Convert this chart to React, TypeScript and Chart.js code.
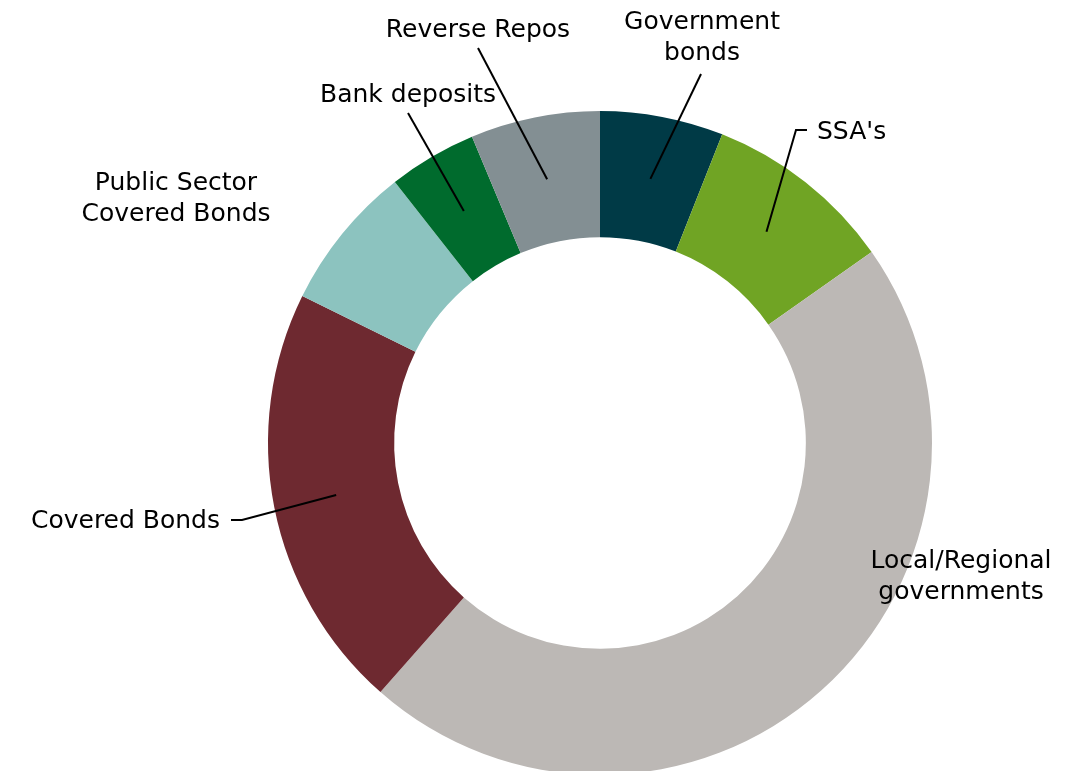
import React, { useEffect, useRef } from "react";
import { Chart, registerables } from "chart.js";

Chart.register(...registerables);

const categories = [
  "Government bonds",
  "SSA's",
  "Local/Regional governments",
  "Covered Bonds",
  "Public Sector Covered Bonds",
  "Bank deposits",
  "Reverse Repos",
];
const shares = [6.0, 9.25, 46.25, 20.8, 7.1, 4.3, 6.3];
const colors = ["#003a46", "#70a424", "#bcb8b5", "#6e2930", "#8cc3bf", "#006b2d", "#838f93"];

// label placement (pixel offsets relative to chart centre)
type LabelCfg = {
  lines: string[];
  x: number;
  y: number;
  align: CanvasTextAlign;
  elbow?: [number, number];
  end?: [number, number];
};
const labelCfg: LabelCfg[] = [
  { lines: ["Government", "bonds"], x: 102, y: -421, align: "center", elbow: [101, -369] },
  { lines: ["SSA's"], x: 217, y: -311, align: "left", elbow: [196, -313], end: [207, -313] },
  { lines: ["Local/Regional", "governments"], x: 361, y: 118, align: "center" },
  { lines: ["Covered Bonds"], x: -380, y: 78, align: "right", elbow: [-358, 77], end: [-369, 77] },
  { lines: ["Public Sector", "Covered Bonds"], x: -424, y: -260, align: "center" },
  { lines: ["Bank deposits"], x: -192, y: -348, align: "center", elbow: [-192, -330] },
  { lines: ["Reverse Repos"], x: -122, y: -413, align: "center", elbow: [-122, -395] },
];

const FONT = '25px "DejaVu Sans"';
const LINE_H = 31;

const labelPlugin = {
  id: "donutLabels",
  afterDraw(chart: any) {
    const ctx = chart.ctx as CanvasRenderingContext2D;
    const meta = chart.getDatasetMeta(0);
    const ca = chart.chartArea;
    const cx = (ca.left + ca.right) / 2;
    const cy = (ca.top + ca.bottom) / 2;
    ctx.save();
    ctx.font = FONT;
    ctx.fillStyle = "#000";
    ctx.textBaseline = "middle";
    ctx.strokeStyle = "#000";
    ctx.lineWidth = 2;
    labelCfg.forEach((cfg, i) => {
      const arc = meta.data[i];
      if (cfg.elbow) {
        const p = arc.getCenterPoint();
        ctx.beginPath();
        ctx.moveTo(p.x, p.y);
        ctx.lineTo(cx + cfg.elbow[0], cy + cfg.elbow[1]);
        if (cfg.end) ctx.lineTo(cx + cfg.end[0], cy + cfg.end[1]);
        ctx.stroke();
      }
      ctx.textAlign = cfg.align;
      cfg.lines.forEach((t, k) => {
        ctx.fillText(t, cx + cfg.x, cy + cfg.y + k * LINE_H);
      });
    });
    ctx.restore();
  },
};

export default function App() {
  const ref = useRef<HTMLCanvasElement>(null);
  useEffect(() => {
    document.body.style.margin = "0";
    document.body.style.overflow = "hidden";
    const chart = new Chart(ref.current!, {
      type: "doughnut",
      data: {
        labels: categories,
        datasets: [
          {
            data: shares,
            backgroundColor: colors,
            borderWidth: 0,
          },
        ],
      },
      options: {
        responsive: false,
        animation: false,
        cutout: "62%",
        layout: { padding: { left: 268, right: 137, top: 111, bottom: 5 } },
        plugins: {
          legend: { display: false },
          tooltip: { enabled: false },
        },
      },
      plugins: [labelPlugin],
    });
    return () => chart.destroy();
  }, []);
  return (
    <div style={{ position: "absolute", left: 0, top: 0, width: 1069, height: 780 }}>
      <canvas ref={ref} width={1069} height={780} />
    </div>
  );
}
